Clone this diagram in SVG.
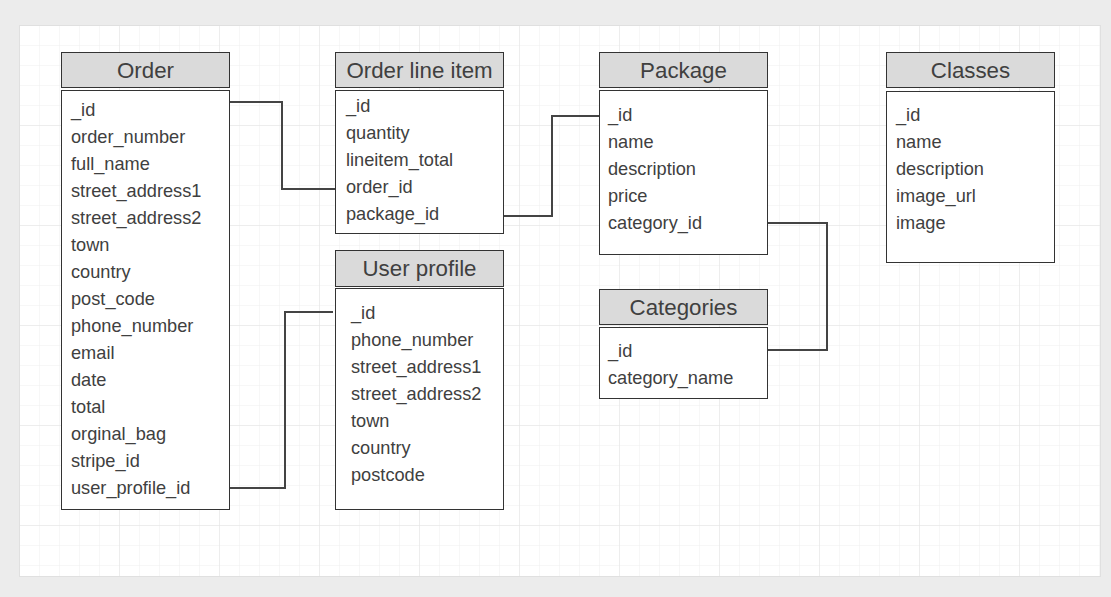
<svg xmlns="http://www.w3.org/2000/svg" width="1111" height="597" viewBox="0 0 1111 597">
<defs>
<pattern id="minor" x="0" y="6" width="20" height="20" patternUnits="userSpaceOnUse">
<path d="M20 0V20M0 20H20" fill="none" stroke="#efefef" stroke-width="1"/>
</pattern>
<pattern id="major" x="20" y="26" width="100" height="100" patternUnits="userSpaceOnUse">
<path d="M100 0V100M0 100H100" fill="none" stroke="#e3e3e3" stroke-width="1"/>
</pattern>
</defs>
<style>
.hd{fill:#dadada;stroke:#333;stroke-width:1}
.bd{fill:#fff;stroke:#333;stroke-width:1}
.ht{font-family:"Liberation Sans",Arial,sans-serif;font-size:22.3px;fill:#404040;text-anchor:middle}
.ft{font-family:"Liberation Sans",Arial,sans-serif;font-size:18.2px;fill:#404040}
.cn{fill:none;stroke:#444;stroke-width:2}
</style>
<rect width="1111" height="597" fill="#ececec"/>
<rect x="19.5" y="25.5" width="1081" height="551" fill="#fff" stroke="#e0e0e0"/>
<rect x="20" y="26" width="1080" height="550" fill="url(#minor)"/>
<rect x="20" y="26" width="1080" height="550" fill="url(#major)"/>
<g id="connectors">
<path class="cn" d="M230 102H282V189H335"/>
<path class="cn" d="M504 216H552V116H599"/>
<path class="cn" d="M230 488H285V312H333"/>
<path class="cn" d="M768 223H827V350H768"/>
</g>
<g id="order">
<rect class="hd" x="61.5" y="52.5" width="168" height="35"/>
<text class="ht" x="145.5" y="78">Order</text>
<rect class="bd" x="61.5" y="90.5" width="168" height="419"/>
<g class="ft">
<text x="71" y="116">_id</text>
<text x="71" y="143">order_number</text>
<text x="71" y="170">full_name</text>
<text x="71" y="197">street_address1</text>
<text x="71" y="224">street_address2</text>
<text x="71" y="251">town</text>
<text x="71" y="278">country</text>
<text x="71" y="305">post_code</text>
<text x="71" y="332">phone_number</text>
<text x="71" y="359">email</text>
<text x="71" y="386">date</text>
<text x="71" y="413">total</text>
<text x="71" y="440">orginal_bag</text>
<text x="71" y="467">stripe_id</text>
<text x="71" y="494">user_profile_id</text>
</g>
</g>
<g id="order-line-item">
<rect class="hd" x="335.5" y="52.5" width="168" height="35"/>
<text class="ht" x="419.5" y="78">Order line item</text>
<rect class="bd" x="335.5" y="90.5" width="168" height="143"/>
<g class="ft">
<text x="346" y="112">_id</text>
<text x="346" y="139">quantity</text>
<text x="346" y="166">lineitem_total</text>
<text x="346" y="193">order_id</text>
<text x="346" y="220">package_id</text>
</g>
</g>
<g id="user-profile">
<rect class="hd" x="335.5" y="250.5" width="168" height="36"/>
<text class="ht" x="419.5" y="276">User profile</text>
<rect class="bd" x="335.5" y="288.5" width="168" height="221"/>
<g class="ft">
<text x="351" y="319">_id</text>
<text x="351" y="346">phone_number</text>
<text x="351" y="373">street_address1</text>
<text x="351" y="400">street_address2</text>
<text x="351" y="427">town</text>
<text x="351" y="454">country</text>
<text x="351" y="481">postcode</text>
</g>
</g>
<g id="package">
<rect class="hd" x="599.5" y="52.5" width="168" height="35"/>
<text class="ht" x="683.5" y="78">Package</text>
<rect class="bd" x="599.5" y="90.5" width="168" height="164"/>
<g class="ft">
<text x="608" y="121">_id</text>
<text x="608" y="148">name</text>
<text x="608" y="175">description</text>
<text x="608" y="202">price</text>
<text x="608" y="229">category_id</text>
</g>
</g>
<g id="categories">
<rect class="hd" x="599.5" y="289.5" width="168" height="35"/>
<text class="ht" x="683.5" y="315">Categories</text>
<rect class="bd" x="599.5" y="327.5" width="168" height="71"/>
<g class="ft">
<text x="608" y="357">_id</text>
<text x="608" y="384">category_name</text>
</g>
</g>
<g id="classes">
<rect class="hd" x="886.5" y="52.5" width="168" height="35"/>
<text class="ht" x="970.5" y="78">Classes</text>
<rect class="bd" x="886.5" y="91.5" width="168" height="171"/>
<g class="ft">
<text x="896" y="121">_id</text>
<text x="896" y="148">name</text>
<text x="896" y="175">description</text>
<text x="896" y="202">image_url</text>
<text x="896" y="229">image</text>
</g>
</g>
</svg>
